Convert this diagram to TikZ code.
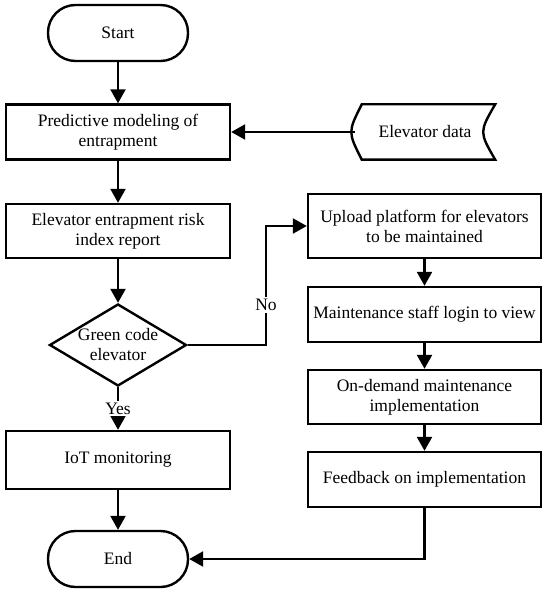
\documentclass[tikz,border=0pt]{standalone}
\usepackage{fontspec}
\setmainfont{Liberation Serif}
\usetikzlibrary{arrows.meta,calc,positioning,shapes.geometric}
\newcommand{\flowfont}{\rmfamily\fontsize{17.5}{20}\selectfont}
\tikzset{
  flowarr/.style={-{Triangle[length=14pt,width=15pt]},line width=2.4pt},
  plainline/.style={line width=2.4pt},
  procbox/.style={draw,line width=2.4pt,align=center,inner sep=2pt,font=\flowfont},
  termbox/.style={draw,line width=2.4pt,rounded corners=27.5pt,minimum width=140pt,minimum height=56pt,font=\flowfont},
  decisionbox/.style={diamond,draw,line width=2.4pt,aspect=1.67,inner sep=0pt,align=center,font=\flowfont},
  tag/.style={fill=white,inner sep=2pt,font=\flowfont}
}

\begin{document}
\begin{tikzpicture}[x=1pt,y=-1pt]
  \useasboundingbox (0,0) rectangle (550,593);

  \node[termbox] (start) at (118,33) {Start};
  \node[procbox,minimum width=224pt,minimum height=55pt] (pred) at (118,132) {Predictive modeling of\\entrapment};
  \node[minimum width=140pt,minimum height=55pt,font=\flowfont] (data) at (425,132) {Elevator data};
  \node[procbox,minimum width=224pt,minimum height=54pt] (risk) at (118,231) {Elevator entrapment risk\\index report};
  \node[decisionbox,minimum width=137pt,minimum height=82pt] (green) at (118,345) {Green code\\elevator};
  \node[procbox,minimum width=224pt,minimum height=58pt] (iot) at (118,460) {IoT monitoring};
  \node[termbox] (end) at (118,559) {End};

  \node[procbox,minimum width=233pt,minimum height=64pt] (upload) at (424.5,226) {Upload platform for elevators\\to be maintained};
  \node[procbox,minimum width=233pt,minimum height=55pt] (staff) at (424.5,314.5) {Maintenance staff login to view};
  \node[procbox,minimum width=233pt,minimum height=54pt] (ondemand) at (424.5,397) {On-demand maintenance\\implementation};
  \node[procbox,minimum width=233pt,minimum height=55pt] (feedback) at (424.5,479.5) {Feedback on implementation};
  \coordinate (nobend) at (266,226);

  % stored data outline
  \draw[plainline] ([xshift=7pt]data.north west) -- (data.north east)
    .. controls ([xshift=-16pt]data.east) .. (data.south east)
    -- ([xshift=7pt]data.south west)
    .. controls ([xshift=-7pt]data.west) .. ([xshift=7pt]data.north west) -- cycle;

  \draw[flowarr] (start) -- (pred);
  \draw[flowarr] (data) -- (pred);
  \draw[flowarr] (pred) -- (risk);
  \draw[flowarr] (risk) -- (green);
  \draw[flowarr] (green) -- node[tag] (yes) {Yes} (iot);
  \draw[flowarr] (iot) -- (end);
  \draw[flowarr] (green.east) -| (nobend) -- (upload.west);
  \node[tag] (no) at (266,305) {No};
  \draw[flowarr] (upload) -- (staff);
  \draw[flowarr] (staff) -- (ondemand);
  \draw[flowarr] (ondemand) -- (feedback);
  \draw[flowarr] (feedback.south) |- (end.east);
\end{tikzpicture}
\end{document}
